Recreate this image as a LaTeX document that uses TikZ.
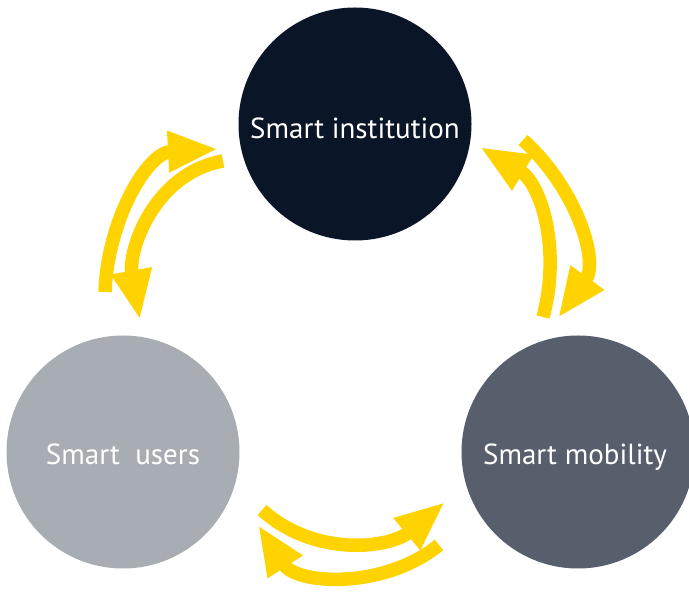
\documentclass[tikz,border=0pt]{standalone}
\usepackage{fontspec}
\setmainfont{PT Sans}
\usetikzlibrary{arrows.meta}
\definecolor{eyyellow}{HTML}{FFD300}
\definecolor{navy}{HTML}{0A1528}
\definecolor{lightgrey}{HTML}{A7ADB2}
\definecolor{slategrey}{HTML}{565F6B}
\tikzset{
  bubble/.style={circle, minimum size=233pt, inner sep=0pt, text=white,
    font=\fontsize{29}{32}\selectfont, text height=24.6pt, text depth=0pt},
  cyc/.style={draw=eyyellow, line width=13.5pt, -{Triangle[length=50pt,width=38pt]}, fill=none}
}
\begin{document}
\begin{tikzpicture}[x=1pt,y=1pt]
\useasboundingbox (0,0) rectangle (689,592);
\node[bubble, fill=navy, text height=29.8pt] (inst) at (355,468) {Smart institution};
\node[bubble, fill=lightgrey] (users) at (123,140) {Smart\ \ users};
\node[bubble, fill=slategrey] (mob) at (578,140) {\hspace*{-6pt}Smart mobility};
% top-left pair
\coordinate (a1s) at (105,300); \coordinate (a1e) at (218,443);
\coordinate (a2s) at (223,431); \coordinate (a2e) at (140,272);
% top-right pair
\coordinate (a3s) at (523,452); \coordinate (a3e) at (558,274);
\coordinate (a4s) at (543,275); \coordinate (a4e) at (480,445);
% bottom pair
\coordinate (a5s) at (262,82); \coordinate (a5e) at (445,90);
\coordinate (a6s) at (439,47); \coordinate (a6e) at (258,67);
\draw[cyc] (a1s) to[out=88,in=183] (a1e);
\draw[cyc] (a2s) to[out=190,in=100] (a2e);
\draw[cyc] (a3s) to[out=-42,in=54] (a3e);
\draw[cyc] (a4s) to[out=75,in=-31] (a4e);
\draw[cyc] (a5s) to[out=-42,in=220] (a5e);
\draw[cyc] (a6s) to[out=219,in=-57] (a6e);
\end{tikzpicture}
\end{document}
